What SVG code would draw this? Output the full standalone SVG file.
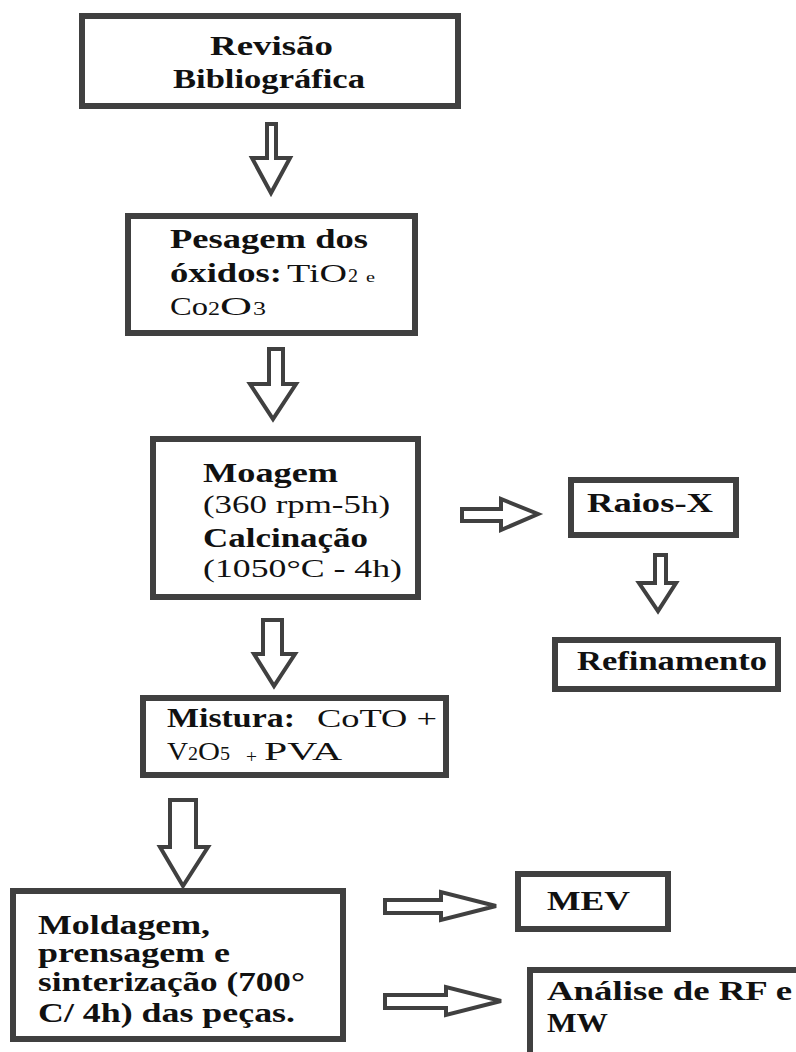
<svg xmlns="http://www.w3.org/2000/svg" width="796" height="1052" viewBox="0 0 796 1052">
<style>
.box{fill:#fff;stroke:#404040;stroke-width:6}
.arr{fill:#fff;stroke:#404040;stroke-width:4;stroke-linejoin:miter}
.t text{fill:#111}
.b{font-weight:bold;font-size:27px}
.r{font-size:26px}
.s{font-size:18px}
</style>
<rect width="796" height="1052" fill="#fff"/>
<g id="connectors">
<path class="arr" d="M267,124 L276,124 L276,158 L290,158 L271,193 L252,158 L267,158 Z"/>
<path class="arr" d="M269,349 L283,349 L283,384 L296,384 L273,419 L250,384 L269,384 Z"/>
<path class="arr" d="M263,620 L282,620 L282,654 L295,654 L274,686 L254,654 L263,654 Z"/>
<path class="arr" d="M170,800 L196,800 L196,847 L208,847 L183,886 L160,847 L170,847 Z"/>
<path class="arr" d="M655,555 L666,555 L666,583 L676,583 L658,611 L639,583 L655,583 Z"/>
<path class="arr" d="M462,509 L501,509 L501,499 L538,514 L501,530 L501,521 L462,521 Z"/>
<path class="arr" d="M385,900 L441,900 L441,892 L496,906 L441,920 L441,913 L385,913 Z"/>
<path class="arr" d="M385,995 L446,995 L446,987 L501,1001 L446,1015 L446,1008 L385,1008 Z"/>
</g>
<g class="t" font-family="'Liberation Serif', 'Times New Roman', Times, serif">
<g id="n1">
<rect class="box" x="82" y="16" width="376" height="90"/>
<text class="b" x="210" y="55" textLength="123" lengthAdjust="spacingAndGlyphs">Revisão</text>
<text class="b" x="173" y="88" textLength="192" lengthAdjust="spacingAndGlyphs">Bibliográfica</text>
</g>
<g id="n2">
<rect class="box" x="128" y="216" width="287" height="117"/>
<text class="b" x="170" y="248" textLength="198" lengthAdjust="spacingAndGlyphs">Pesagem dos</text>
<text class="b" x="170" y="282" textLength="112" lengthAdjust="spacingAndGlyphs">óxidos:</text>
<text class="r" x="287" y="282" textLength="60" lengthAdjust="spacingAndGlyphs">TiO</text>
<text class="s" x="348" y="282" textLength="10" lengthAdjust="spacingAndGlyphs">2</text>
<text class="r" x="366" y="282" style="font-size:14px" textLength="9" lengthAdjust="spacingAndGlyphs">e</text>
<text class="r" x="170" y="315" textLength="38" lengthAdjust="spacingAndGlyphs">Co</text>
<text class="s" x="208" y="315" textLength="12" lengthAdjust="spacingAndGlyphs">2</text>
<text class="r" x="220" y="315" textLength="32" lengthAdjust="spacingAndGlyphs">O</text>
<text class="s" x="253" y="315" textLength="13" lengthAdjust="spacingAndGlyphs">3</text>
</g>
<g id="n3">
<rect class="box" x="153" y="439" width="265" height="158"/>
<text class="b" x="203" y="482" textLength="135" lengthAdjust="spacingAndGlyphs">Moagem</text>
<text class="r" x="203" y="513" textLength="187" lengthAdjust="spacingAndGlyphs">(360 rpm-5h)</text>
<text class="b" x="203" y="547" textLength="165" lengthAdjust="spacingAndGlyphs">Calcinação</text>
<text class="r" x="203" y="577" textLength="199" lengthAdjust="spacingAndGlyphs">(1050°C - 4h)</text>
</g>
<g id="n4">
<rect class="box" x="571" y="480" width="165" height="55"/>
<text class="b" x="587" y="512" textLength="126" lengthAdjust="spacingAndGlyphs">Raios-X</text>
</g>
<g id="n5">
<rect class="box" x="555" y="640" width="223" height="49"/>
<text class="b" x="577" y="670" textLength="190" lengthAdjust="spacingAndGlyphs">Refinamento</text>
</g>
<g id="n6">
<rect class="box" x="143" y="698" width="303" height="77"/>
<text class="b" x="167" y="727" textLength="128" lengthAdjust="spacingAndGlyphs">Mistura:</text>
<text class="r" x="317" y="727" textLength="120" lengthAdjust="spacingAndGlyphs">CoTO +</text>
<text class="r" x="167" y="760" textLength="21" lengthAdjust="spacingAndGlyphs">V</text>
<text class="s" x="188" y="760" textLength="10" lengthAdjust="spacingAndGlyphs">2</text>
<text class="r" x="198" y="760" textLength="22" lengthAdjust="spacingAndGlyphs">O</text>
<text class="s" x="220" y="760" textLength="10" lengthAdjust="spacingAndGlyphs">5</text>
<text class="s" x="246" y="763" textLength="11" lengthAdjust="spacingAndGlyphs">+</text>
<text class="r" x="264" y="760" textLength="78" lengthAdjust="spacingAndGlyphs">PVA</text>
</g>
<g id="n7">
<rect class="box" x="13" y="891" width="330" height="148"/>
<text class="b" x="38" y="934" textLength="172" lengthAdjust="spacingAndGlyphs">Moldagem,</text>
<text class="b" x="38" y="962" textLength="192" lengthAdjust="spacingAndGlyphs">prensagem e</text>
<text class="b" x="38" y="991" textLength="267" lengthAdjust="spacingAndGlyphs">sinterização (700°</text>
<text class="b" x="38" y="1022" textLength="257" lengthAdjust="spacingAndGlyphs">C/ 4h) das peças.</text>
</g>
<g id="n8">
<rect class="box" x="518" y="874" width="150" height="55"/>
<text class="b" x="547" y="910" textLength="83" lengthAdjust="spacingAndGlyphs">MEV</text>
</g>
<g id="n9">
<rect class="box" x="530" y="970" width="280" height="100"/>
<text class="b" x="547" y="1000" textLength="245" lengthAdjust="spacingAndGlyphs">Análise de RF e</text>
<text class="b" x="547" y="1032" textLength="61" lengthAdjust="spacingAndGlyphs">MW</text>
</g>
</g>
</svg>
